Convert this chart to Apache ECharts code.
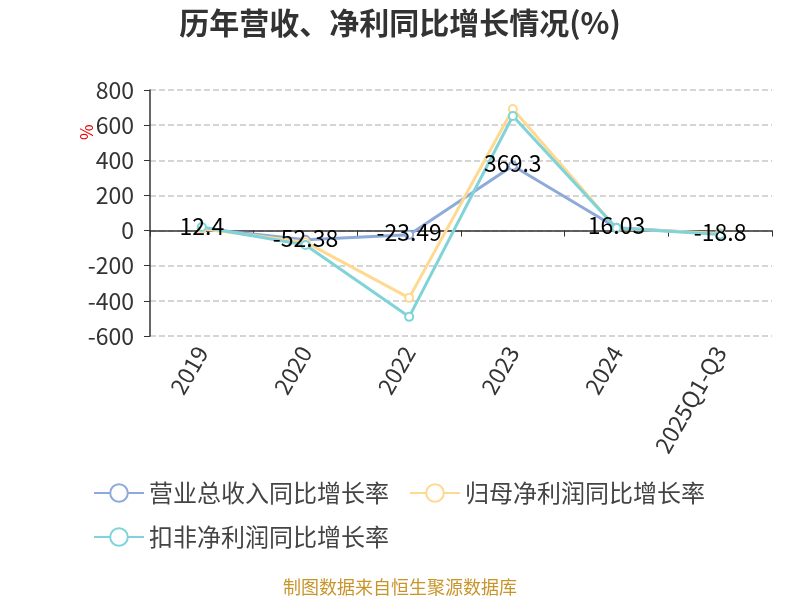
<!DOCTYPE html>
<html>
<head>
<meta charset="utf-8">
<style>
  html, body { margin: 0; padding: 0; background: #fff; }
  #main { width: 800px; height: 600px; }
</style>
<script src="https://cdn.jsdelivr.net/npm/echarts@6/dist/echarts.min.js"></script>
</head>
<body>
<div id="main"></div>
<script>
// 数据
var categories = ['2019', '2020', '2022', '2023', '2024', '2025Q1-Q3'];
var revenueGrowth = [12.4, -52.38, -23.49, 369.3, 16.03, -18.8];
var netProfitGrowth = [10, -66, -383, 692, 12, -16];
var deductedProfitGrowth = [20, -82, -491, 652, 14, -22];
var seriesNames = ['营业总收入同比增长率', '归母净利润同比增长率', '扣非净利润同比增长率'];
var colors = ['#8eaadb', '#ffd98f', '#7fd3d9'];

var font = '"Noto Sans CJK SC", sans-serif';

function lineSeries(name, data, color, showLabel) {
  return {
    name: name,
    type: 'line',
    data: data,
    symbol: 'emptyCircle',
    symbolSize: 8,
    lineStyle: { color: color, width: 3 },
    itemStyle: { color: color, borderWidth: 2 },
    label: {
      show: showLabel,
      position: 'inside',
      offset: [0, -2],
      color: '#000',
      fontSize: 23,
      fontFamily: font
    }
  };
}

var chart = echarts.init(document.getElementById('main'));
chart.setOption({
  backgroundColor: '#fff',
  title: {
    text: '历年营收、净利同比增长情况(%)',
    left: 'center',
    top: 3,
    textStyle: { fontSize: 30, fontWeight: 'bold', color: '#333', fontFamily: font }
  },
  legend: {
    data: seriesNames,
    left: 88,
    top: 476,
    width: 700,
    itemWidth: 50,
    itemHeight: 22,
    itemGap: 20,
    textStyle: { fontSize: 24, color: '#444', fontFamily: font }
  },
  grid: { left: 150, right: 28, top: 90, bottom: 264 },
  xAxis: [
    {
      type: 'category',
      data: categories,
      axisLine: { onZero: true, lineStyle: { color: '#333', width: 1.5 } },
      axisTick: { show: true, length: 6, lineStyle: { color: '#333' } },
      axisLabel: { show: false }
    },
    {
      type: 'category',
      data: categories,
      position: 'bottom',
      axisLine: { show: false, onZero: false },
      axisTick: { show: false },
      axisLabel: {
        rotate: 60,
        fontSize: 23,
        color: '#333',
        margin: 12,
        fontFamily: font
      }
    }
  ],
  yAxis: {
    type: 'value',
    min: -600,
    max: 800,
    interval: 200,
    axisLine: { show: true, lineStyle: { color: '#333', width: 1.5 } },
    axisTick: { show: true, length: 6, lineStyle: { color: '#333' } },
    axisLabel: { fontSize: 23, color: '#333', margin: 16, fontFamily: font },
    splitLine: { lineStyle: { color: '#c8c8c8', type: 'dashed', width: 1.5 } }
  },
  graphic: [
    {
      type: 'text',
      x: 78,
      y: 140,
      rotation: Math.PI / 2,
      style: { text: '%', fill: '#e00', fontSize: 17, fontFamily: font }
    },
    {
      type: 'text',
      left: 'center',
      top: 578,
      style: { text: '制图数据来自恒生聚源数据库', fill: '#c8952a', fontSize: 18, fontFamily: font }
    }
  ],
  series: [
    lineSeries(seriesNames[0], revenueGrowth, colors[0], true),
    lineSeries(seriesNames[1], netProfitGrowth, colors[1], false),
    lineSeries(seriesNames[2], deductedProfitGrowth, colors[2], false)
  ]
});
</script>
</body>
</html>
